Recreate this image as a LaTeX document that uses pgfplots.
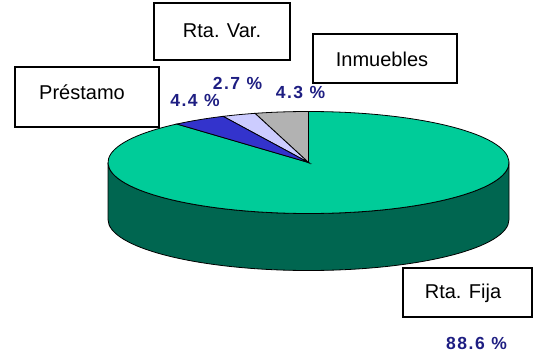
\documentclass[border=0pt]{standalone}
\usepackage{fontspec}
\setmainfont{Liberation Sans}
\newfontfamily\pctfont[LetterSpace=9]{Liberation Sans}
\usepackage{pgfplots}
\usepackage{pgfplotstable}
\pgfplotsset{compat=1.18}
\definecolor{topgreen}{RGB}{0,204,153}
\definecolor{sidegreen}{RGB}{0,102,80}
\definecolor{sblue}{RGB}{51,51,204}
\definecolor{slight}{RGB}{204,204,255}
\definecolor{sgray}{RGB}{178,178,178}
\definecolor{pctblue}{RGB}{30,30,130}

% shares (percent), drawn counter-clockwise from 12 o'clock
\pgfplotstableread{
name value
Inmuebles 4.3
RtaVar 2.7
Prestamo 4.4
RtaFija 88.6
}\piedata

\pgfplotstablegetelem{0}{value}\of\piedata \edef\vA{\pgfplotsretval}
\pgfplotstablegetelem{1}{value}\of\piedata \edef\vB{\pgfplotsretval}
\pgfplotstablegetelem{2}{value}\of\piedata \edef\vC{\pgfplotsretval}
\pgfplotstablegetelem{3}{value}\of\piedata \edef\vD{\pgfplotsretval}
\pgfmathsetmacro\aA{90}
\pgfmathsetmacro\aB{\aA+3.6*\vA}
\pgfmathsetmacro\aC{\aB+3.6*\vB}
\pgfmathsetmacro\aD{\aC+3.6*\vC}
\pgfmathsetmacro\aE{\aD+3.6*\vD}

\begin{document}
\begin{tikzpicture}
\begin{axis}[
  x=1pt, y=1pt,
  xmin=0, xmax=534, ymin=0, ymax=351,
  hide axis, clip=false,
]
\path (axis cs:0,0) rectangle (axis cs:534,351);
% side
\filldraw[fill=sidegreen, draw=black, line width=0.8pt]
  (axis cs:108,188.5) arc[start angle=180, end angle=360, x radius=200.5pt, y radius=51pt]
  -- ++(0pt,-57pt) arc[start angle=360, end angle=180, x radius=200.5pt, y radius=51pt] -- cycle;
% top slices
\filldraw[fill=topgreen, draw=black, line width=0.8pt]
  (axis cs:308.5,188.5) -- ++(\aD:200.5pt and 51pt) arc[start angle=\aD, end angle=\aE, x radius=200.5pt, y radius=51pt] -- cycle;
\filldraw[fill=sgray, draw=black, line width=0.8pt]
  (axis cs:308.5,188.5) -- ++(\aA:200.5pt and 51pt) arc[start angle=\aA, end angle=\aB, x radius=200.5pt, y radius=51pt] -- cycle;
\filldraw[fill=slight, draw=black, line width=0.8pt]
  (axis cs:308.5,188.5) -- ++(\aB:200.5pt and 51pt) arc[start angle=\aB, end angle=\aC, x radius=200.5pt, y radius=51pt] -- cycle;
\filldraw[fill=sblue, draw=black, line width=0.8pt]
  (axis cs:308.5,188.5) -- ++(\aC:200.5pt and 51pt) arc[start angle=\aC, end angle=\aD, x radius=200.5pt, y radius=51pt] -- cycle;
% label boxes
\filldraw[fill=white, draw=black, line width=1.6pt] (axis cs:15,224) rectangle (axis cs:159,284);
\node[font=\fontsize{20}{24}\selectfont] at (axis cs:82,259) {Préstamo};
\filldraw[fill=white, draw=black, line width=1.6pt] (axis cs:154,291) rectangle (axis cs:290,348);
\node[font=\fontsize{20}{24}\selectfont] at (axis cs:222,320) {Rta. Var.};
\filldraw[fill=white, draw=black, line width=1.6pt] (axis cs:313,268) rectangle (axis cs:457,317);
\node[font=\fontsize{20}{24}\selectfont] at (axis cs:382,292) {Inmuebles};
\filldraw[fill=white, draw=black, line width=1.6pt] (axis cs:403,34) rectangle (axis cs:532,83);
\node[font=\fontsize{20}{24}\selectfont] at (axis cs:463,58) {Rta. Fija};
% percentages
\node[font=\pctfont\bfseries\fontsize{17.5}{19}\selectfont, text=pctblue] at (axis cs:195,251) {\vC\ \%};
\node[font=\pctfont\bfseries\fontsize{17.5}{19}\selectfont, text=pctblue] at (axis cs:237.5,268) {\vB\ \%};
\node[font=\pctfont\bfseries\fontsize{17.5}{19}\selectfont, text=pctblue] at (axis cs:300.5,259) {\vA\ \%};
\node[font=\pctfont\bfseries\fontsize{17.5}{19}\selectfont, text=pctblue] at (axis cs:476.5,7.5) {\vD\ \%};
\end{axis}
\end{tikzpicture}
\end{document}
